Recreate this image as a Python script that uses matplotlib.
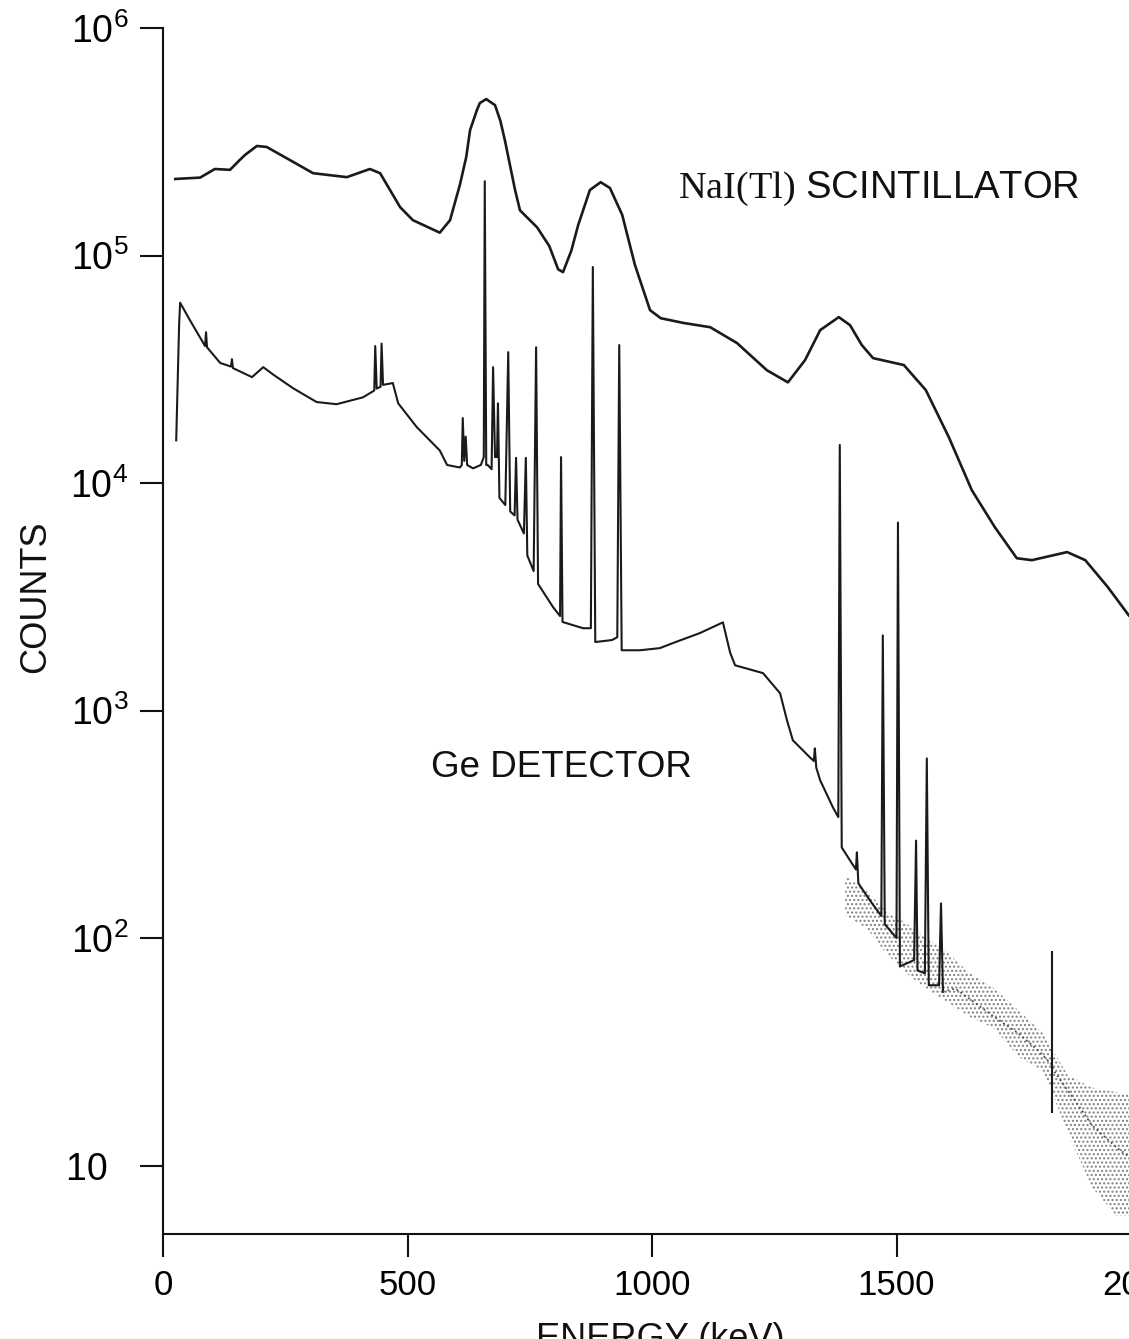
import matplotlib.pyplot as plt
from matplotlib.ticker import FixedLocator, NullLocator

plt.rcParams['font.family'] = ['Liberation Sans', 'DejaVu Sans']
plt.rcParams['mathtext.fontset'] = 'custom'
plt.rcParams['mathtext.rm'] = 'Liberation Serif'
plt.rcParams['hatch.linewidth'] = 1.0

# NaI(Tl) scintillator spectrum (energy in keV, counts)
nai_e = [25, 76, 106, 137, 157, 168, 192, 212, 266, 307, 376, 423, 444, 485, 511,
         566, 587, 607, 620, 628, 642, 648, 661, 679, 690, 699, 720, 730, 765, 790,
         808, 818, 835, 849, 873, 895, 914, 939, 965, 996, 1018, 1065, 1119, 1174,
         1235, 1278, 1313, 1344, 1382, 1405, 1429, 1452, 1515, 1560, 1607, 1654,
         1701, 1746, 1777, 1849, 1886, 1932, 1975]
nai_c = [2.17e5, 2.2e5, 2.4e5, 2.38e5, 2.63e5, 2.77e5, 3.03e5, 3.0e5, 2.58e5, 2.3e5,
         2.21e5, 2.4e5, 2.3e5, 1.63e5, 1.43e5, 1.26e5, 1.43e5, 2.04e5, 2.7e5, 3.56e5,
         4.36e5, 4.68e5, 4.87e5, 4.58e5, 3.9e5, 3.22e5, 1.94e5, 1.58e5, 1.33e5, 1.1e5,
         8.7e4, 8.45e4, 1.05e5, 1.36e5, 1.94e5, 2.1e5, 1.98e5, 1.51e5, 9.1e4, 5.75e4,
         5.3e4, 5.05e4, 4.84e4, 4.12e4, 3.13e4, 2.77e4, 3.47e4, 4.7e4, 5.36e4, 4.94e4,
         4.04e4, 3.54e4, 3.3e4, 2.56e4, 1.59e4, 9.3e3, 6.4e3, 4.67e3, 4.58e3, 4.97e3,
         4.58e3, 3.49e3, 2.62e3]

# Ge detector spectrum, continuum with line peaks
ge_e = [27, 33, 35, 55, 86, 88, 90, 117, 139, 141, 143, 182, 205, 225, 266, 314,
        355, 409, 432, 434, 437, 445, 447, 450, 470, 481, 519, 566, 581, 607, 611,
        613, 616, 619, 622, 634, 650, 656, 658, 661, 664, 672, 675, 679, 683, 685,
        688, 700, 706, 710, 719, 722, 725, 738, 742, 745, 758, 763, 767, 798, 812,
        814, 817, 859, 875, 879, 884, 918, 929, 933, 938, 975, 1016, 1043, 1098,
        1145, 1160, 1170, 1227, 1262, 1276, 1288, 1323, 1331, 1333, 1336, 1344,
        1370, 1381, 1384, 1388, 1417, 1419, 1422, 1446, 1469, 1472, 1476, 1500,
        1503, 1507, 1536, 1540, 1543, 1558, 1562, 1566, 1587, 1591, 1595]
ge_c = [1.54e4, 5.0e4, 6.2e4, 5.2e4, 4.0e4, 4.6e4, 3.95e4, 3.37e4, 3.25e4, 3.5e4,
        3.2e4, 2.92e4, 3.23e4, 3.0e4, 2.61e4, 2.27e4, 2.22e4, 2.38e4, 2.55e4, 4.0e4,
        2.6e4, 2.65e4, 4.1e4, 2.7e4, 2.75e4, 2.24e4, 1.76e4, 1.39e4, 1.2e4, 1.17e4,
        1.2e4, 1.93e4, 1.25e4, 1.6e4, 1.2e4, 1.16e4, 1.2e4, 1.3e4, 2.12e5, 1.2e4,
        1.2e4, 1.15e4, 3.23e4, 1.3e4, 1.3e4, 2.24e4, 8.6e3, 8.0e3, 3.76e4, 7.5e3,
        7.2e3, 1.29e4, 6.9e3, 6.0e3, 1.29e4, 4.8e3, 4.1e3, 3.95e4, 3.6e3, 2.84e3,
        2.6e3, 1.3e4, 2.45e3, 2.3e3, 2.3e3, 8.9e4, 2.0e3, 2.04e3, 2.1e3, 4.04e4,
        1.84e3, 1.84e3, 1.88e3, 1.98e3, 2.19e3, 2.44e3, 1.79e3, 1.58e3, 1.46e3,
        1.19e3, 906, 740, 622, 600, 682, 560, 493, 375, 340, 1.47e4, 250, 200, 238,
        174, 146, 125, 2.14e3, 115, 100, 6.7e3, 75, 80, 268, 72, 70, 616, 62, 62,
        142, 58]

# Ge high energy tail (sparse counts, scattered points)
ge_tail_e = [1595, 1620, 1660, 1700, 1750, 1790, 1816, 1822, 1860, 1900, 1950, 2000]
ge_tail_c = [58, 60, 52, 45, 38, 32, 28, 26, 20, 15, 12, 10]
band_e = [1395, 1440, 1480, 1520, 1560, 1600, 1650, 1700, 1750, 1800, 1850, 1900,
          1950, 2000]
band_lo = [126, 110, 85, 70, 60, 53, 45, 40, 30, 26, 14, 8, 6, 6]
band_hi = [188, 160, 130, 116, 100, 88, 70, 60, 48, 38, 25, 22, 21, 20]
tail_peak_e = [1818]
tail_peak_top = [88]
tail_peak_bottom = [17]

x_ticks = [0, 500, 1000, 1500, 2000]
y_ticks = [10, 1e2, 1e3, 1e4, 1e5, 1e6]
y_tick_labels = ['10\u2007', r'$\mathregular{10^2}$', r'$\mathregular{10^3}$',
                 r'$\mathregular{10^4}$', r'$\mathregular{10^5}$',
                 r'$\mathregular{10^6}$']

W, H = 1129, 1339
fig = plt.figure(figsize=(W / 100, H / 100), dpi=100)
ax = fig.add_axes([163 / W, 105 / H, 978 / W, 1206 / H])

ax.plot(nai_e, nai_c, color='#1a1a1a', lw=1.9, solid_joinstyle='round')
ax.plot(ge_e, ge_c, color='#1a1a1a', lw=1.5, solid_joinstyle='round')
ax.fill_between(band_e, band_lo, band_hi, facecolor='none', edgecolor='0.5',
                hatch='....', linewidth=0)
ax.plot(ge_tail_e, ge_tail_c, color='0.3', lw=1.3, ls=':')
ax.vlines(tail_peak_e, tail_peak_bottom, tail_peak_top, color='#1a1a1a', lw=1.5)

ax.set_yscale('log')
ax.set_xlim(0, 2000)
ax.set_ylim(5, 1e6)
ax.xaxis.set_major_locator(FixedLocator(x_ticks))
ax.yaxis.set_major_locator(FixedLocator(y_ticks))
ax.yaxis.set_minor_locator(NullLocator())
ax.set_yticklabels(y_tick_labels)
ax.tick_params(axis='both', which='major', direction='out', length=16.5,
               width=1.5, pad=8.5, color='#111111')
ax.tick_params(axis='x', labelsize=25)
ax.tick_params(axis='y', labelsize=27)

for side in ['top', 'right']:
    ax.spines[side].set_visible(False)
for side in ['left', 'bottom']:
    ax.spines[side].set_linewidth(1.5)
    ax.spines[side].set_color('#111111')

fig.text(678 / W, 1 - 198 / H, r'$\mathrm{NaI(Tl)}$ SCINTILLATOR', fontsize=27.5,
         ha='left', va='baseline', color='#111111')
fig.text(431 / W, 1 - 777 / H, 'Ge DETECTOR', fontsize=26.5, ha='left',
         va='baseline', color='#111111')
fig.text(36 / W, 1 - 597 / H, 'COUNTS', fontsize=26, rotation=90, ha='center',
         va='center', color='#111111')
fig.text(660 / W, 1 - 1322 / H, 'ENERGY (keV)', fontsize=26, ha='center',
         va='top', color='#111111')

fig.savefig('out.png', dpi=100)
